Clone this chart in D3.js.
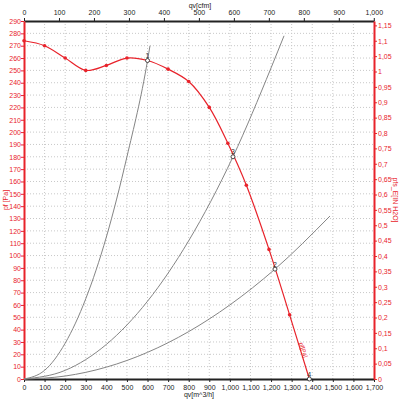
<!DOCTYPE html>
<html>
<head>
<meta charset="utf-8">
<script src="https://cdn.jsdelivr.net/npm/d3@7"></script>
<style>
  body { margin: 0; background: #fff; }
  svg { display: block; font-family: "Liberation Sans", Arial, sans-serif; }
</style>
</head>
<body>
<svg id="chart" width="400" height="400"></svg>
<script>
// fan curve pf [Pa] vs qv [m^3/h]
const fanQ = [0, 100, 200, 300, 400, 500, 600, 700, 800, 900, 990, 1080, 1190, 1290, 1386];
const fanP = [274, 270, 260, 250, 254, 260, 258, 251, 241, 220, 191, 157, 105, 52, 0];

// system curves
const sys1Q = [0, 100, 200, 300, 400, 500, 600, 612];
const sys1P = [0, 7, 29, 65, 115, 180, 258, 270];
const sys2Q = [0, 200, 400, 600, 800, 1015, 1200, 1263];
const sys2P = [0, 7, 28, 63, 112, 180, 252, 278];
const sys3Q = [0, 200, 400, 600, 800, 1000, 1219, 1486];
const sys3P = [0, 2.4, 9.6, 21.6, 38.4, 60, 89, 132];

// operating points and their labels
const opQ = [600, 1219, 1015, 1386];
const opP = [258, 89, 180, 0];
const opLabel = ["1", "2", "3", "4"];

const bottomTicks = d3.range(0, 1701, 100);
const topTicks = d3.range(0, 1001, 100);
const leftTicks = d3.range(0, 291, 10);
const rightTicks = d3.range(0, 1.1501, 0.05);

const red = "#e8232b";
const svg = d3.select("#chart");

const x = d3.scaleLinear().domain([0, 1700]).range([24, 374]);
const y = d3.scaleLinear().domain([0, 290]).range([379, 21]);
const xTop = d3.scaleLinear().domain([0, 1700 / 1.69901]).range([24, 374]);
const yRight = d3.scaleLinear().domain([0, 290 / 249.089]).range([379, 21]);

// grid
const grid = svg.append("g").attr("stroke", "#c8c8c8").attr("stroke-dasharray", "1,2");
grid.selectAll(".gv").data(bottomTicks.slice(1, -1)).enter().append("line")
  .attr("x1", d => x(d)).attr("x2", d => x(d)).attr("y1", y(290)).attr("y2", y(0));
grid.selectAll(".gh").data(leftTicks.slice(1, -1)).enter().append("line")
  .attr("x1", x(0)).attr("x2", x(1700)).attr("y1", d => y(d)).attr("y2", d => y(d));

const fmtComma = d3.format(",");
const fmtDec = v => String(+v.toFixed(2)).replace(".", ",");

function styleAxis(g, color) {
  g.select(".domain").attr("stroke", color).attr("stroke-width", 2);
  g.selectAll(".tick line").attr("stroke", color);
  g.selectAll(".tick text").attr("fill", color).style("font-size", "7px");
}

svg.append("g").attr("transform", `translate(0,${y(0)})`)
  .call(d3.axisBottom(x).tickValues(bottomTicks).tickFormat(fmtComma).tickSize(3).tickSizeOuter(0))
  .call(g => styleAxis(g, "#222"));
svg.append("g").attr("transform", `translate(0,${y(290)})`)
  .call(d3.axisTop(xTop).tickValues(topTicks).tickFormat(fmtComma).tickSize(3).tickSizeOuter(0))
  .call(g => styleAxis(g, "#222"));
svg.append("g").attr("transform", `translate(${x(0)},0)`)
  .call(d3.axisLeft(y).tickValues(leftTicks).tickSize(3).tickSizeOuter(0))
  .call(g => styleAxis(g, red))
  .call(g => g.selectAll(".tick text").attr("x", -3));
svg.append("g").attr("transform", `translate(${x(1700)},0)`)
  .call(d3.axisRight(yRight).tickValues(rightTicks).tickFormat(fmtDec).tickSize(3).tickSizeOuter(0))
  .call(g => styleAxis(g, red))
  .call(g => g.selectAll(".tick text").attr("x", 4));

// axis titles
svg.append("text").attr("x", 200).attr("y", 8).attr("text-anchor", "middle")
  .style("font-size", "7px").attr("fill", "#222").text("qv[cfm]");
svg.append("text").attr("x", 199).attr("y", 397).attr("text-anchor", "middle")
  .style("font-size", "7px").attr("fill", "#222").text("qv[m^3/h]");
svg.append("text").attr("transform", "translate(8,200) rotate(-90)").attr("text-anchor", "middle")
  .style("font-size", "7px").attr("fill", red).text("pf [Pa]");
svg.append("text").attr("transform", "translate(393,200) rotate(90)").attr("text-anchor", "middle")
  .style("font-size", "7px").attr("fill", red).text("pfs_E[IN H2O]");

// system curves
const sysLine = d3.line().x(d => x(d[0])).y(d => y(d[1])).curve(d3.curveMonotoneX);
[[sys1Q, sys1P], [sys2Q, sys2P], [sys3Q, sys3P]].forEach(([qs, ps]) => {
  svg.append("path").datum(qs.map((q, i) => [q, ps[i]]))
    .attr("d", sysLine).attr("fill", "none").attr("stroke", "#858585").attr("stroke-width", 1);
});

// fan curve
const fanLine = d3.line().x(d => x(d[0])).y(d => y(d[1])).curve(d3.curveCatmullRom.alpha(0.5));
const fanData = fanQ.map((q, i) => [q, fanP[i]]);
svg.append("path").datum(fanData).attr("d", fanLine)
  .attr("fill", "none").attr("stroke", red).attr("stroke-width", 1.2);
svg.selectAll(".fm").data(fanData.slice(0, -1)).enter().append("circle")
  .attr("cx", d => x(d[0])).attr("cy", d => y(d[1])).attr("r", 1.8).attr("fill", red);

// label along the fan curve
svg.append("text").attr("transform", `translate(${x(1345) - 2},${y(29)}) rotate(72)`)
  .style("font-size", "6px").attr("fill", red).text("pf[Pa]");

// operating points
const ops = opQ.map((q, i) => ({ q: q, p: opP[i], label: opLabel[i] }));
svg.selectAll(".op").data(ops).enter().append("circle")
  .attr("cx", d => x(d.q)).attr("cy", d => y(d.p)).attr("r", 2)
  .attr("fill", "#fff").attr("stroke", "#333").attr("stroke-width", 0.9);
svg.selectAll(".opl").data(ops).enter().append("text")
  .attr("x", d => x(d.q) - 2).attr("y", d => y(d.p) - 2.5)
  .style("font-size", "7px").attr("fill", "#333").text(d => d.label);
</script>
</body>
</html>
